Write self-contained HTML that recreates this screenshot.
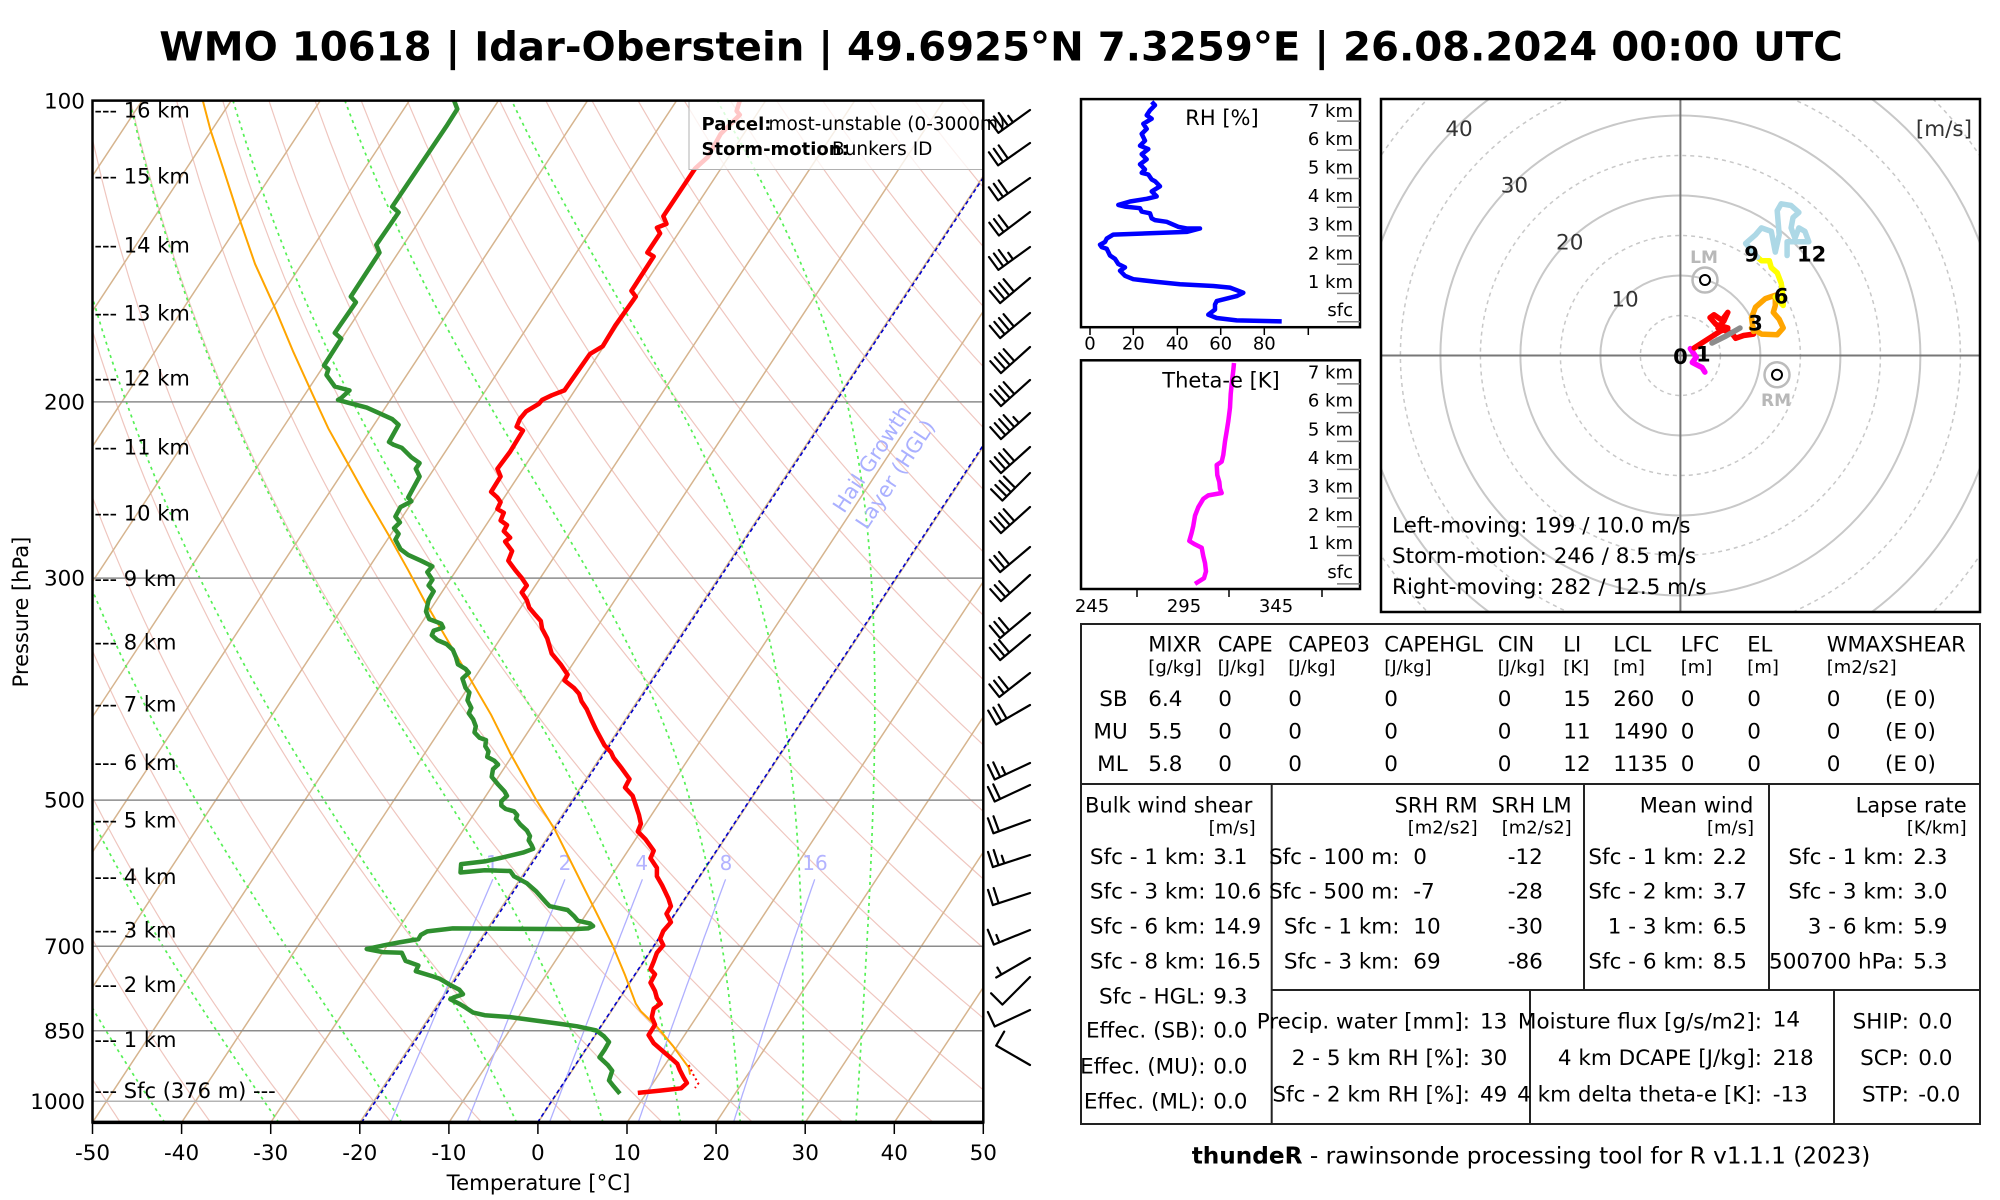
<!DOCTYPE html>
<html><head><meta charset="utf-8"><title>thundeR sounding</title>
<style>
html,body{margin:0;padding:0;background:#fff;}
svg{display:block;font-family:"DejaVu Sans","Liberation Sans",sans-serif;}
</style></head><body>
<svg id="s" width="2000" height="1200" viewBox="0 0 2000 1200" xmlns="http://www.w3.org/2000/svg">
<defs>
<clipPath id="cp"><rect x="92.5" y="100.6" width="890.8" height="1021.8"/></clipPath>
<clipPath id="ch"><rect x="1381" y="99" width="599" height="513"/></clipPath>
</defs>
<rect width="2000" height="1200" fill="#fff"/>

<text x="1001" y="60.5" font-size="40.2" font-weight="bold" text-anchor="middle">WMO 10618 | Idar-Oberstein | 49.6925°N 7.3259°E | 26.08.2024 00:00 UTC</text>

<!-- SKEW-T -->
<g clip-path="url(#cp)">
 <g id="dry" fill="none" stroke="#efc6bf" stroke-width="1.2"></g>
 <g id="iso" fill="none" stroke="#d6b48e" stroke-width="1.5"></g>
 <g id="moist" fill="none" stroke="#55f055" stroke-width="1.7" stroke-dasharray="3,4"></g>
 <g id="mix" fill="none" stroke="#b0b0ff" stroke-width="1.3"></g>
 <g stroke="#8c8c8c" stroke-width="1.5">
  <line x1="92" y1="401.9" x2="984" y2="401.9"/>
  <line x1="92" y1="578.1" x2="984" y2="578.1"/>
  <line x1="92" y1="800.1" x2="984" y2="800.1"/>
  <line x1="92" y1="946.3" x2="984" y2="946.3"/>
  <line x1="92" y1="1030.7" x2="984" y2="1030.7"/>
  <line x1="92" y1="1101.3" x2="984" y2="1101.3" stroke="#b4b4b4"/>
 </g>
 <g stroke="#0000cc" stroke-width="1.6" stroke-dasharray="4,3" fill="none">
  <line x1="361.6" y1="1122.4" x2="1034" y2="100.6"/>
  <line x1="537.6" y1="1122.4" x2="1210" y2="100.6"/>
 </g>
 <g fill="#b3b3ff" font-size="20" text-anchor="middle">
  <text x="492.3" y="870">1</text><text x="565" y="870">2</text><text x="641.7" y="870">4</text><text x="726" y="870">8</text><text x="815" y="870">16</text>
 </g>
 <g transform="translate(872,459) rotate(-56.6)" fill="#aab0ff" font-size="21" text-anchor="middle">
  <text x="0" y="7">Hail Growth</text>
  <text x="0" y="35">Layer (HGL)</text>
 </g>
 <!-- parcel -->
 <polyline fill="none" stroke="#ffa500" stroke-width="2" points="202.8,100.6 210.5,130.1 223.2,168.4 239.2,218.1 255.1,264.1 274.2,306.2 293.4,352.1 312.5,394.2 328.4,428.6 347.6,463.1 366.7,497.5 389,535.8 408.2,570.2 424.1,600.1 446.4,638.3 468.8,676.5 491.1,714.8 510.2,753.1 535.7,799 554.8,829.6 574,867.9 593.1,906.2 612.2,944.4 625,975 635.8,1003.7 640.9,1011.4 656.9,1026.7 672.8,1045.8 688.8,1067.7 690.1,1074.6"/>
 <polyline fill="none" stroke="#ff0000" stroke-width="2" stroke-dasharray="2,3" points="688.8,1065 693,1074 698.3,1083.5 695,1088"/>
 <!-- dewpoint -->
 <polyline fill="none" stroke="#2f8f2f" stroke-width="4.5" stroke-linejoin="round" points="454.1,100.6 457.3,109.1 446.4,126.3 392.2,206.7 398.6,212.4 376.3,244.9 379.5,252.6 350.8,296.6 355.9,302.3 334.8,332.9 341.2,338.7 324,365.5 328.4,369.3 326.5,375 334.8,386.5 349.5,390.4 341.2,398 338,399.9 347.6,402.6 366.7,407.6 379.5,413.3 392.2,419.1 398.6,424.8 395.4,430.5 389,442 393.5,444.7 401.8,447.8 411.4,457.3 419.6,463.1 415.8,468.8 419.6,476.5 408.2,497.5 411.4,501.3 400.5,507.1 395.4,516.6 399.9,522.4 394.1,528.1 398.6,533.9 395.4,539.6 400.5,549.2 408.2,554.9 420.9,560.7 432.4,566.4 427.3,572.1 432.4,579.8 428.6,585.5 433.7,591.3 428.6,600.1 426,611.5 429.2,619.1 441.3,623.7 443.2,627.6 433.7,630.6 431.8,635.2 437.5,640.2 446.4,644 452.8,649.8 456,657.4 457.9,664.3 465.6,668.9 468.8,672.7 462.4,678.5 465.6,688 469.4,692.6 467.5,700.3 471.3,707.9 468.8,713.3 473.2,719.4 475.8,726.3 474.5,732.4 479.6,737.8 486,740.1 485.3,746.2 488.5,751.5 487.2,756.9 494.3,760.7 498.1,764.6 493,769.2 491.7,776.8 498.1,784.5 504.5,791.4 507,795.9 501.3,801.3 501.3,805.5 505.7,809 514,811.3 517.2,815.1 515.9,818.9 520.4,824.6 526.8,830.4 530,836.1 528.7,840.3 531.9,845.7 533.2,848.8 523,852.6 500.6,857.9 484.7,861.4 461.1,864.1 460.5,872.5 484.7,870.2 510.2,871 514,876.3 526.8,883.2 535.7,890.9 545.9,902.3 549.7,906.2 567.6,910 574,916.1 577.8,920.7 589.9,923.4 593.1,926.1 588,928.4 574,929.1 452.8,928.4 427.3,931.4 420.9,934.9 418.4,939.1 398.6,942.5 382.7,945.6 366.7,949 382.7,952.1 401.8,952.8 405.6,960.9 418.4,965.5 415.8,971.2 433.7,976.6 440.1,978.9 449.6,984.6 459.2,989.6 463,994.2 454.1,997.2 450.3,999.2 459.2,1003.7 465.6,1007.6 473.2,1012.6 484.7,1015.2 510.2,1017.1 538.9,1021 561.2,1024 577.2,1026.3 596.3,1030.5 604,1036.3 609,1042 604.6,1049.7 599.5,1057.3 607.8,1065 612.2,1070.7 609,1080.4 613.5,1086.1 619.9,1093.7"/>
 <!-- temperature -->
 <polyline fill="none" stroke="#ff0000" stroke-width="4.5" stroke-linejoin="round" points="739.8,100.6 736.6,111 739.8,114.8 720.7,133.9 707.9,156.9 695.2,168.4 663.3,216.2 666.5,223.9 656.9,227.7 660.1,233.4 647.3,252.6 653.7,256.4 631.4,290.9 635.8,296.6 615.4,325.3 602.7,346.3 589.9,354 564.4,390.4 551.7,395.3 542.1,399.9 538.9,403.8 526.1,411.4 519.8,419.1 516.6,426.7 523,430.5 510.2,451.6 497.4,468.8 500.6,476.5 491.1,491.8 497.4,497.5 500.6,502.1 497.4,509 503.8,512.8 500.6,520.5 507,525.1 503.8,531.2 510.2,537.7 505.1,541.5 512.1,551.1 508.3,560.7 515.3,570.2 521.7,577.9 526.8,585.5 521.7,592.4 526.8,600.1 529.3,607.7 535.7,615.3 540.8,621 542.1,628.7 547.2,638.3 551.7,653.6 561.2,665.1 567.6,674.6 564.4,680.4 574,688 579.1,693.8 581.6,701.4 586.7,709.1 591.8,720.6 596.3,730.1 604.6,745.4 611,752.3 613.5,757.7 621.8,768.4 629.5,779.1 625,787.5 632.7,795.9 635.2,803.6 639,815.1 640.9,823.9 637.8,831.5 645.4,839.2 653.7,850.7 650.5,858.3 656.9,867.9 656.9,876.3 662,885.1 668.4,898.5 670.9,906.2 666.5,913.8 670.9,922.2 663.3,931 660.1,938.7 663.3,945.2 656.9,952.8 653.7,961.6 650.5,969.3 655,974.3 650.5,982.7 655,991.1 656.9,998 660.7,1003.7 653.7,1008.7 651.8,1017.1 655,1024.8 648.6,1035.1 653.7,1043.2 663.3,1051.6 670.9,1058.1 677.3,1063.8 679.8,1070 683.7,1077.6 686.9,1083 681.1,1088.3 660.1,1090.6 637.8,1092.9"/>
 <rect x="689" y="100.6" width="300" height="68.9" fill="#fff" fill-opacity="0.78" stroke="#b0b0b0" stroke-width="1"/>
</g>
<rect x="92.5" y="100.6" width="890.8" height="1021.8" fill="none" stroke="#000" stroke-width="2.5"/>
<line x1="92" y1="1122.4" x2="984" y2="1122.4" stroke="#000" stroke-width="3.5"/>

<!-- legend text -->
<text x="701.5" y="130" font-size="18" font-weight="bold">Parcel:</text>
<text x="768.5" y="130" font-size="18.5">most-unstable (0-3000m)</text>
<text x="701.5" y="155" font-size="18" font-weight="bold">Storm-motion:</text>
<text x="832" y="155" font-size="18.5">Bunkers ID</text>

<!-- heights -->
<g font-size="21">
<text x="94.4" y="117.7">--- 16 km</text>
<text x="94.4" y="183.5">--- 15 km</text>
<text x="94.4" y="252.5">--- 14 km</text>
<text x="94.4" y="320.5">--- 13 km</text>
<text x="94.4" y="385.5">--- 12 km</text>
<text x="94.4" y="454.5">--- 11 km</text>
<text x="94.4" y="520.3">--- 10 km</text>
<text x="94.4" y="586.1">--- 9 km</text>
<text x="94.4" y="649.5">--- 8 km</text>
<text x="94.4" y="711.5">--- 7 km</text>
<text x="94.4" y="770.1">--- 6 km</text>
<text x="94.4" y="827.5">--- 5 km</text>
<text x="94.4" y="883.8">--- 4 km</text>
<text x="94.4" y="937.4">--- 3 km</text>
<text x="94.4" y="992.1">--- 2 km</text>
<text x="94.4" y="1046.8">--- 1 km</text>
<text x="94.4" y="1098.1">--- Sfc (376 m) ---</text>
</g>

<!-- y ticks labels -->
<g font-size="21.5" text-anchor="end">
<text x="85" y="108.6">100</text>
<text x="85" y="409.5">200</text>
<text x="85" y="585.7">300</text>
<text x="85" y="807.7">500</text>
<text x="85" y="953.9">700</text>
<text x="85" y="1038.3">850</text>
<text x="85" y="1108.9">1000</text>
</g>
<text transform="translate(28,612) rotate(-90)" font-size="21" text-anchor="middle">Pressure [hPa]</text>

<!-- x ticks -->
<g stroke="#000" stroke-width="1.5">
<line x1="92.5" y1="1122" x2="92.5" y2="1134"/><line x1="181.6" y1="1122" x2="181.6" y2="1134"/><line x1="270.7" y1="1122" x2="270.7" y2="1134"/><line x1="359.8" y1="1122" x2="359.8" y2="1134"/><line x1="448.9" y1="1122" x2="448.9" y2="1134"/><line x1="537.9" y1="1122" x2="537.9" y2="1134"/><line x1="627" y1="1122" x2="627" y2="1134"/><line x1="716.1" y1="1122" x2="716.1" y2="1134"/><line x1="805.2" y1="1122" x2="805.2" y2="1134"/><line x1="894.3" y1="1122" x2="894.3" y2="1134"/><line x1="983.3" y1="1122" x2="983.3" y2="1134"/>
</g>
<g font-size="21.5" text-anchor="middle">
<text x="92.5" y="1160">-50</text><text x="181.6" y="1160">-40</text><text x="270.7" y="1160">-30</text><text x="359.8" y="1160">-20</text><text x="448.9" y="1160">-10</text><text x="537.9" y="1160">0</text><text x="627" y="1160">10</text><text x="716.1" y="1160">20</text><text x="805.2" y="1160">30</text><text x="894.3" y="1160">40</text><text x="983.3" y="1160">50</text>
</g>
<text x="538.5" y="1190" font-size="21.3" text-anchor="middle">Temperature [°C]</text>

<!-- wind barbs -->
<g id="barbs" fill="none" stroke="#000" stroke-width="2.2" stroke-linecap="round"></g>

<!-- RH panel -->
<polyline fill="none" stroke="#0000ff" stroke-width="4.5" stroke-linejoin="round" points="1151.7,101.8 1155,105.2 1150,110.3 1146.7,115.3 1151.7,118.7 1143.3,123.8 1146.7,128.9 1141.7,133.9 1145,140.7 1140,145.7 1148.3,149.1 1141.7,154.2 1146.7,159.3 1140,164.3 1145,169.4 1141.7,172.8 1148.3,174.5 1151.7,179.5 1155,181.2 1160,186.3 1151.7,191.4 1156.7,196.4 1146.7,198.8 1130,201.5 1118.3,204.9 1125,206.6 1140,208.2 1141.7,211.6 1150,213.3 1151.7,218.4 1155,220.1 1166.7,221.8 1178.3,226.8 1186.7,228.5 1200,228.5 1186.7,231.9 1113.3,234.6 1106.7,238.6 1105,242 1100,244.7 1101.7,247.1 1106.7,248.8 1110,255.5 1115,258.9 1118.3,264 1125,267.4 1120,270.7 1125,275.8 1133.3,279.2 1156.7,281.9 1180,284.3 1213.3,286 1230,287.6 1243.3,292.7 1236.7,296.1 1216.7,301.1 1215,304.5 1215,309.6 1208.3,314.7 1216.7,318 1236.7,320.4 1281.7,321.4"/>
<rect x="1081" y="99.1" width="279" height="228.1" fill="none" stroke="#000" stroke-width="2.5"/>
<text x="1222" y="124.8" font-size="21" text-anchor="middle">RH [%]</text>
<g stroke="#808080" stroke-width="1.5">
<line x1="1337" y1="121.1" x2="1360" y2="121.1"/><line x1="1337" y1="150.1" x2="1360" y2="150.1"/><line x1="1337" y1="178.5" x2="1360" y2="178.5"/><line x1="1337" y1="207.2" x2="1360" y2="207.2"/><line x1="1337" y1="235.9" x2="1360" y2="235.9"/><line x1="1337" y1="264.3" x2="1360" y2="264.3"/><line x1="1337" y1="293.4" x2="1360" y2="293.4"/><line x1="1337" y1="321.8" x2="1360" y2="321.8"/>
</g>
<g font-size="18" text-anchor="end">
<text x="1353" y="116.8">7 km</text><text x="1353" y="144.8">6 km</text><text x="1353" y="173.5">5 km</text><text x="1353" y="202.2">4 km</text><text x="1353" y="230.6">3 km</text><text x="1353" y="259.7">2 km</text><text x="1353" y="288.1">1 km</text><text x="1353" y="316.1">sfc</text>
</g>
<g stroke="#000" stroke-width="1.5">
<line x1="1090" y1="327" x2="1090" y2="335"/><line x1="1133.3" y1="327" x2="1133.3" y2="335"/><line x1="1177.3" y1="327" x2="1177.3" y2="335"/><line x1="1220.7" y1="327" x2="1220.7" y2="335"/><line x1="1264.3" y1="327" x2="1264.3" y2="335"/><line x1="1308.3" y1="327" x2="1308.3" y2="335"/>
</g>
<g font-size="18" text-anchor="middle">
<text x="1090" y="349.5">0</text><text x="1133.3" y="349.5">20</text><text x="1177.3" y="349.5">40</text><text x="1220.7" y="349.5">60</text><text x="1264.3" y="349.5">80</text>
</g>

<!-- Theta-e panel -->
<polyline fill="none" stroke="#ff00ff" stroke-width="4.5" stroke-linejoin="round" points="1234,363 1233.3,370.4 1231.7,383.9 1230.7,394.1 1230,407.6 1228.3,421.1 1226.7,431.2 1225,441.4 1223.3,454.9 1221.7,461.6 1216.7,465 1217.3,475.1 1219.3,481.9 1220,488.6 1221.7,493 1208.3,495.4 1203.3,498.8 1198.3,507.2 1195,515.7 1193.3,525.8 1191.7,532.6 1189.3,541 1195,544.4 1201.7,547.8 1203.3,556.2 1205,563 1206,571.4 1204,578.2 1195,583.9"/>
<rect x="1081" y="360.3" width="279" height="228.7" fill="none" stroke="#000" stroke-width="2.5"/>
<text x="1221" y="387.3" font-size="21" text-anchor="middle">Theta-e [K]</text>
<g stroke="#808080" stroke-width="1.5">
<line x1="1337" y1="383.9" x2="1360" y2="383.9"/><line x1="1337" y1="412.6" x2="1360" y2="412.6"/><line x1="1337" y1="441.4" x2="1360" y2="441.4"/><line x1="1337" y1="469.4" x2="1360" y2="469.4"/><line x1="1337" y1="498.1" x2="1360" y2="498.1"/><line x1="1337" y1="526.8" x2="1360" y2="526.8"/><line x1="1337" y1="555.5" x2="1360" y2="555.5"/><line x1="1337" y1="583.9" x2="1360" y2="583.9"/>
</g>
<g font-size="18" text-anchor="end">
<text x="1353" y="378.6">7 km</text><text x="1353" y="406.6">6 km</text><text x="1353" y="435.4">5 km</text><text x="1353" y="464.1">4 km</text><text x="1353" y="492.5">3 km</text><text x="1353" y="521.2">2 km</text><text x="1353" y="549.2">1 km</text><text x="1353" y="577.9">sfc</text>
</g>
<g stroke="#000" stroke-width="1.5">
<line x1="1137" y1="589" x2="1137" y2="597"/><line x1="1229" y1="589" x2="1229" y2="597"/><line x1="1322" y1="589" x2="1322" y2="597"/>
</g>
<g font-size="18" text-anchor="middle">
<text x="1092" y="612">245</text><text x="1184" y="612">295</text><text x="1276" y="612">345</text>
</g>

<!-- Hodograph -->
<g clip-path="url(#ch)">
 <g fill="none" stroke="#c8c8c8">
  <circle cx="1680.4" cy="355.5" r="40" stroke-width="1.5" stroke-dasharray="4,4"/>
  <circle cx="1680.4" cy="355.5" r="120" stroke-width="1.5" stroke-dasharray="4,4"/>
  <circle cx="1680.4" cy="355.5" r="200" stroke-width="1.5" stroke-dasharray="4,4"/>
  <circle cx="1680.4" cy="355.5" r="280" stroke-width="1.5" stroke-dasharray="4,4"/>
  <circle cx="1680.4" cy="355.5" r="360" stroke-width="1.5" stroke-dasharray="4,4"/>
  <circle cx="1680.4" cy="355.5" r="80" stroke-width="2"/>
  <circle cx="1680.4" cy="355.5" r="160" stroke-width="2"/>
  <circle cx="1680.4" cy="355.5" r="240" stroke-width="2"/>
  <circle cx="1680.4" cy="355.5" r="320" stroke-width="2"/>
 </g>
 <line x1="1381" y1="355.5" x2="1980" y2="355.5" stroke="#777" stroke-width="2"/>
 <line x1="1680.4" y1="99" x2="1680.4" y2="612" stroke="#777" stroke-width="2"/>
 <g fill="#333" font-size="21.5" text-anchor="middle">
  <text x="1459" y="136">40</text><text x="1514.4" y="192.5">30</text><text x="1569.7" y="249.4">20</text><text x="1625" y="306.3">10</text>
 </g>
 <text x="1972" y="136" fill="#333" font-size="21.5" text-anchor="end">[m/s]</text>
 <g fill="none" stroke-width="5.5" stroke-linejoin="round" stroke-linecap="round">
  <polyline stroke="#ff00ff" points="1690.3,348.6 1696.2,357.2 1692.3,362.4 1702.1,367.6 1704.9,372.1"/>
  <polyline stroke="#ff0000" points="1694.2,347.9 1708,339 1719.9,331.4 1727.8,327.9 1716,324.5 1710,317.6 1714,314.8 1721.9,320.3 1727.8,312.4 1723.9,321 1717.9,327.9 1731.8,333.1 1735.7,338.3 1743.6,335.5 1753.5,334.1"/>
  <polyline stroke="#8c8c8c" points="1712,343 1726,336 1740,328"/>
  <polyline stroke="#ffa500" points="1753.5,331.4 1751.5,317.6 1755.5,307.2 1765.4,298.6 1775.3,295.2 1775.3,305.5 1773.3,312.4 1779.2,319.3 1783.2,327.9 1777.2,334.8 1761.4,334.1 1751.5,327.9"/>
  <polyline stroke="#ffff00" points="1775.3,296.9 1783.2,305.5 1783.2,296.9 1781.2,283.1 1777.2,272.8 1771.3,267.6 1769.3,260.7 1761.4,260.7 1757.5,257.2"/>
  <polyline stroke="#add8e6" points="1757.5,257.2 1745.6,243.4 1755.5,234.8 1761.4,227.9 1771.3,231.4 1773.3,241.7 1775.3,252.1 1779.2,234.8 1777.2,210.7 1781.2,203.8 1791.1,205.5 1798.9,212.4 1793,217.6 1791.1,227.9 1795,238.3 1798.9,227.9 1804.9,231.4 1808.8,241.7 1787.1,241.7 1787.1,255.5"/>
 </g>
 <g font-size="21" font-weight="bold" text-anchor="middle">
  <text x="1680.4" y="364">0</text><text x="1703.3" y="361.5">1</text><text x="1755.5" y="330.5">3</text><text x="1781.2" y="303.6">6</text><text x="1751.5" y="261.5">9</text><text x="1811.6" y="261.5">12</text>
 </g>
 <circle cx="1705" cy="280" r="12.5" fill="none" stroke="#bbb" stroke-width="2.5"/>
 <circle cx="1705" cy="280" r="5" fill="#fff" stroke="#000" stroke-width="2"/>
 <circle cx="1777" cy="374.8" r="12.5" fill="none" stroke="#bbb" stroke-width="2.5"/>
 <circle cx="1777" cy="374.8" r="5" fill="#fff" stroke="#000" stroke-width="2"/>
 <text x="1704" y="263" font-size="17" font-weight="bold" fill="#b8b8b8" text-anchor="middle">LM</text>
 <text x="1776" y="406" font-size="17" font-weight="bold" fill="#b8b8b8" text-anchor="middle">RM</text>
 <g font-size="21.5">
  <text x="1392" y="532.4">Left-moving: 199 / 10.0 m/s</text>
  <text x="1392" y="563.1">Storm-motion: 246 / 8.5 m/s</text>
  <text x="1392" y="594.1">Right-moving: 282 / 12.5 m/s</text>
 </g>
</g>
<rect x="1381" y="99" width="599" height="513" fill="none" stroke="#000" stroke-width="2.5"/>

<!-- TABLE -->
<g stroke="#222" stroke-width="2" fill="none">
 <rect x="1081" y="624" width="899" height="500"/>
 <line x1="1081" y1="784" x2="1980" y2="784"/>
 <line x1="1271.7" y1="784" x2="1271.7" y2="1124"/>
 <line x1="1584" y1="784" x2="1584" y2="990"/>
 <line x1="1769" y1="784" x2="1769" y2="990"/>
 <line x1="1271.7" y1="990" x2="1980" y2="990"/>
 <line x1="1530" y1="990" x2="1530" y2="1124"/>
 <line x1="1834" y1="990" x2="1834" y2="1124"/>
</g>
<g font-size="21">
 <text x="1148.3" y="651.7">MIXR</text><text x="1217.7" y="651.7">CAPE</text><text x="1288.3" y="651.7">CAPE03</text><text x="1384.3" y="651.7">CAPEHGL</text><text x="1497.7" y="651.7">CIN</text><text x="1563.3" y="651.7">LI</text><text x="1613.3" y="651.7">LCL</text><text x="1680.7" y="651.7">LFC</text><text x="1747.3" y="651.7">EL</text><text x="1826.7" y="651.7">WMAXSHEAR</text>
</g>
<g font-size="18">
 <text x="1148.3" y="673">[g/kg]</text><text x="1217.7" y="673">[J/kg]</text><text x="1288.3" y="673">[J/kg]</text><text x="1384.3" y="673">[J/kg]</text><text x="1497.7" y="673">[J/kg]</text><text x="1563.3" y="673">[K]</text><text x="1613.3" y="673">[m]</text><text x="1680.7" y="673">[m]</text><text x="1747.3" y="673">[m]</text><text x="1826.7" y="673">[m2/s2]</text>
</g>
<g font-size="21.5">
 <text x="1127.7" y="706" text-anchor="end">SB</text><text x="1148.3" y="706">6.4</text><text x="1218.3" y="706">0</text><text x="1288.3" y="706">0</text><text x="1384.3" y="706">0</text><text x="1497.7" y="706">0</text><text x="1563.3" y="706">15</text><text x="1613.3" y="706">260</text><text x="1680.7" y="706">0</text><text x="1747.3" y="706">0</text><text x="1826.7" y="706">0</text><text x="1885" y="706">(E 0)</text>
 <text x="1127.7" y="738.3" text-anchor="end">MU</text><text x="1148.3" y="738.3">5.5</text><text x="1218.3" y="738.3">0</text><text x="1288.3" y="738.3">0</text><text x="1384.3" y="738.3">0</text><text x="1497.7" y="738.3">0</text><text x="1563.3" y="738.3">11</text><text x="1613.3" y="738.3">1490</text><text x="1680.7" y="738.3">0</text><text x="1747.3" y="738.3">0</text><text x="1826.7" y="738.3">0</text><text x="1885" y="738.3">(E 0)</text>
 <text x="1127.7" y="771" text-anchor="end">ML</text><text x="1148.3" y="771">5.8</text><text x="1218.3" y="771">0</text><text x="1288.3" y="771">0</text><text x="1384.3" y="771">0</text><text x="1497.7" y="771">0</text><text x="1563.3" y="771">12</text><text x="1613.3" y="771">1135</text><text x="1680.7" y="771">0</text><text x="1747.3" y="771">0</text><text x="1826.7" y="771">0</text><text x="1885" y="771">(E 0)</text>
</g>
<!-- section headers -->
<g font-size="21">
 <text x="1085" y="812.7">Bulk wind shear</text>
 <text x="1477.7" y="812.7" text-anchor="end">SRH RM</text>
 <text x="1571.7" y="812.7" text-anchor="end">SRH LM</text>
 <text x="1753.3" y="812.7" text-anchor="end">Mean wind</text>
 <text x="1966.7" y="812.7" text-anchor="end">Lapse rate</text>
</g>
<g font-size="18" text-anchor="end">
 <text x="1255.7" y="833.3">[m/s]</text>
 <text x="1477.7" y="833.3">[m2/s2]</text>
 <text x="1571.7" y="833.3">[m2/s2]</text>
 <text x="1754" y="833.3">[m/s]</text>
 <text x="1966.7" y="833.3">[K/km]</text>
</g>
<g font-size="21.5">
 <g text-anchor="end">
  <text x="1205.5" y="864">Sfc - 1 km:</text><text x="1205.5" y="898.3">Sfc - 3 km:</text><text x="1205.5" y="933.3">Sfc - 6 km:</text><text x="1205.5" y="968.3">Sfc - 8 km:</text><text x="1205.5" y="1003.3">Sfc - HGL:</text><text x="1205.5" y="1037.7">Effec. (SB):</text><text x="1205.5" y="1073.3">Effec. (MU):</text><text x="1205.5" y="1108.3">Effec. (ML):</text>
  <text x="1399.5" y="864">Sfc - 100 m:</text><text x="1399.5" y="898.3">Sfc - 500 m:</text><text x="1399.5" y="933.3">Sfc - 1 km:</text><text x="1399.5" y="968.3">Sfc - 3 km:</text>
  <text x="1704" y="864">Sfc - 1 km:</text><text x="1704" y="898.3">Sfc - 2 km:</text><text x="1704" y="933.3">1 - 3 km:</text><text x="1704" y="968.3">Sfc - 6 km:</text>
  <text x="1904" y="864">Sfc - 1 km:</text><text x="1904" y="898.3">Sfc - 3 km:</text><text x="1904" y="933.3">3 - 6 km:</text><text x="1904" y="968.3">500700 hPa:</text>
  <text x="1470" y="1028.3">Precip. water [mm]:</text><text x="1470" y="1065">2 - 5 km RH [%]:</text><text x="1470" y="1101.7">Sfc - 2 km RH [%]:</text>
  <text x="1762" y="1028.3">Moisture flux [g/s/m2]:</text><text x="1762" y="1065">4 km DCAPE [J/kg]:</text><text x="1762" y="1101.7">4 km delta theta-e [K]:</text>
  <text x="1909" y="1028.3">SHIP:</text><text x="1909" y="1065">SCP:</text><text x="1909" y="1101.7">STP:</text>
 </g>
 <text x="1213.3" y="864">3.1</text><text x="1213.3" y="898.3">10.6</text><text x="1213.3" y="933.3">14.9</text><text x="1213.3" y="968.3">16.5</text><text x="1213.3" y="1003.3">9.3</text><text x="1213.3" y="1037.7">0.0</text><text x="1213.3" y="1073.3">0.0</text><text x="1213.3" y="1108.3">0.0</text>
 <text x="1413.3" y="864">0</text><text x="1413.3" y="898.3">-7</text><text x="1413.3" y="933.3">10</text><text x="1413.3" y="968.3">69</text>
 <text x="1507.7" y="864">-12</text><text x="1507.7" y="898.3">-28</text><text x="1507.7" y="933.3">-30</text><text x="1507.7" y="968.3">-86</text>
 <text x="1712.7" y="864">2.2</text><text x="1712.7" y="898.3">3.7</text><text x="1712.7" y="933.3">6.5</text><text x="1712.7" y="968.3">8.5</text>
 <text x="1913.3" y="864">2.3</text><text x="1913.3" y="898.3">3.0</text><text x="1913.3" y="933.3">5.9</text><text x="1913.3" y="968.3">5.3</text>
 <text x="1480" y="1028.3">13</text><text x="1480" y="1065">30</text><text x="1480" y="1101.7">49</text>
 <text x="1772.7" y="1026.5">14</text><text x="1772.7" y="1065">218</text><text x="1772.7" y="1101.7">-13</text>
 <text x="1918.3" y="1028.3">0.0</text><text x="1918.3" y="1065">0.0</text><text x="1918.3" y="1101.7">-0.0</text>
</g>

<text x="1191.7" y="1163.3" font-size="23.2"><tspan font-weight="bold">thundeR</tspan> - rawinsonde processing tool for R v1.1.1 (2023)</text>
</svg>

<script>
(function(){
var NS="http://www.w3.org/2000/svg";
var X0=92.5,TX=8.909,Y0=100.6,YD=1000.7,SK=74.0;
function yP(p){return Y0+YD*Math.log(p/100)/Math.LN10;}
function xTP(T,p){return X0+(T+50+SK*Math.log(1050/p)/Math.LN10)*TX;}
function pl(id,pts){var e=document.createElementNS(NS,'polyline');
 e.setAttribute('points',pts.map(function(q){return q[0].toFixed(1)+','+q[1].toFixed(1);}).join(' '));
 document.getElementById(id).appendChild(e);}
var T,p,pts;
for(T=-130;T<=50;T+=10){pl('iso',[[xTP(T,1050),yP(1050)],[xTP(T,100),yP(100)]]);}
for(var th=-50;th<=220;th+=10){pts=[];for(p=1050;p>=100;p-=10){T=(th+273.15)*Math.pow(p/1000,0.2857)-273.15;pts.push([xTP(T,p),yP(p)]);}pl('dry',pts);}
var Rd=287.04,Cp=1005.7,Lv=2.501e6,eps=0.622;
function f(Tk,p){var Tc=Tk-273.15;var es=6.112*Math.exp(17.67*Tc/(Tc+243.5));var rs=eps*es/(p-es);return (Rd*Tk+Lv*rs)/(Cp+Lv*Lv*rs*eps/(Rd*Tk*Tk));}
[-41.9,-29.1,-15.3,-2.4,7.3,16.0,22.7,29.7,35.7].forEach(function(Tb){
 var Tk=Tb+273.15;p=1050;pts=[];
 while(p>=100){pts.push([xTP(Tk-273.15,p),yP(p)]);var p2=p-5;var dl=Math.log(p2/p);var k1=f(Tk,p);var k2=f(Tk+k1*dl,p2);Tk+=0.5*(k1+k2)*dl;p=p2;}
 pl('moist',pts);});
[1,2,4,8,16].forEach(function(w){pts=[];for(p=1050;p>=600;p-=5){var e=w*p/(622+w);var l=Math.log(e/6.112);var Td=243.5*l/(17.67-l);pts.push([xTP(Td,p),yP(p)]);}pl('mix',pts);});
var B=[[110,36,3,1],[143,35,3,0],[178,35,3,0],[212,37,3,0],[247,36,3,1],[278,40,4,0],[313,40,4,0],[347,42,4,0],[380,42,4,0],[413,42,4,1],[447,42,4,0],[473,45,4,0],[507,42,4,0],[547,40,3,0],[575,42,3,0],[613,40,3,0],[635,40,3,0],[673,38,3,0],[705,30,3,0],[763,25,2,1],[785,25,2,0],[820,20,2,0],[855,18,2,1],[893,18,2,0],[930,22,1,1],[958,30,0,1],[977,45,1,0],[1010,25,1,0],[1065,-30,1,0]];
var g=document.getElementById('barbs');
B.forEach(function(b){var y=b[0],r=b[1]*Math.PI/180,nf=b[2],nh=b[3];
 var dx=-Math.cos(r),dy=Math.sin(r),bx=1030,L=39;var tx=bx+L*dx,ty=y+L*dy;var px=-Math.sin(r),py=-Math.cos(r);
 var d='M'+bx+','+y+'L'+tx.toFixed(1)+','+ty.toFixed(1);var i=0,k,qx,qy;
 for(k=0;k<nf;k++,i++){qx=tx-dx*i*6;qy=ty-dy*i*6;d+='M'+qx.toFixed(1)+','+qy.toFixed(1)+'l'+(px*16).toFixed(1)+','+(py*16).toFixed(1);}
 for(k=0;k<nh;k++,i++){if(nf===0)i=1;qx=tx-dx*i*6;qy=ty-dy*i*6;d+='M'+qx.toFixed(1)+','+qy.toFixed(1)+'l'+(px*8).toFixed(1)+','+(py*8).toFixed(1);}
 var e=document.createElementNS(NS,'path');e.setAttribute('d',d);g.appendChild(e);});
})();
</script>
</body></html>
